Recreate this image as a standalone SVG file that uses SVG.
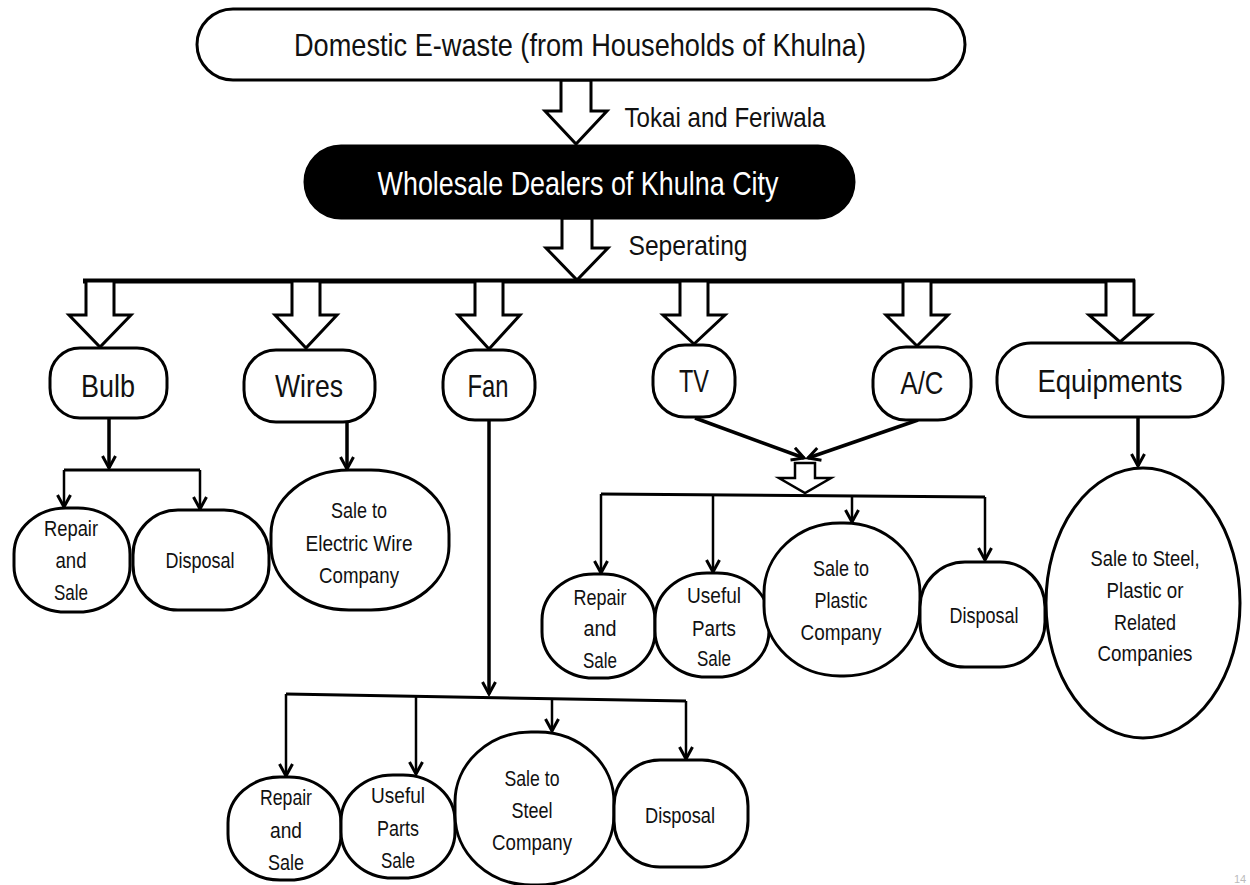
<svg xmlns="http://www.w3.org/2000/svg" width="1250" height="885" viewBox="0 0 1250 885">
<defs>
<marker id="ah" markerUnits="userSpaceOnUse" markerWidth="16" markerHeight="16" viewBox="0 0 16 16" refX="14" refY="8" orient="auto">
<path d="M2,1.5 L14,8 L2,14.5" fill="none" stroke="#000" stroke-width="3"/>
</marker>
</defs>
<style>
text{font-family:"Liberation Sans",Arial,sans-serif;fill:#111;text-anchor:middle}
.lg{font-size:32px}
.md{font-size:28px}
.sm{font-size:22px}
.box{fill:#fff;stroke:#000;stroke-width:3}
.blk{fill:#000;stroke:#000;stroke-width:3}
.barrow{fill:#fff;stroke:#000;stroke-width:3;stroke-linejoin:miter}
.c{fill:none;stroke:#000;stroke-width:3}
.ca{fill:none;stroke:#000;stroke-width:3.5;marker-end:url(#ah)}
.ct{fill:none;stroke:#000;stroke-width:2.5;marker-end:url(#ah)}
</style>
<rect width="1250" height="885" fill="#fff"/>

<g id="connectors">
<polygon class="barrow" points="561,80 591,80 591,111 607,111 576,144 545,111 561,111"/>
<polygon class="barrow" points="562,218 592,218 592,248 608,248 577,280 546,248 562,248"/>
<line x1="83" y1="281" x2="1135" y2="281" stroke="#000" stroke-width="5"/>
<polygon class="barrow" points="86,281 114,281 114,315 131,315 100,347 69,315 86,315"/>
<polygon class="barrow" points="292,281 320,281 320,315 337,315 306,348 275,315 292,315"/>
<polygon class="barrow" points="475,281 503,281 503,315 520,315 489,349 458,315 475,315"/>
<polygon class="barrow" points="680,281 708,281 708,315 725,315 694,344 663,315 680,315"/>
<polygon class="barrow" points="903,281 931,281 931,315 948,315 917,346 886,315 903,315"/>
<polygon class="barrow" points="1106,281 1134,281 1134,315 1151,315 1120,342 1089,315 1106,315"/>
<path class="ca" d="M109,419 V468"/>
<path class="c" d="M64,470 H200"/>
<path class="ct" d="M64,470 V507"/>
<path class="ct" d="M200,470 V509"/>
<path class="ca" d="M347,422 V469"/>
<path class="ca" d="M489,420 V694"/>
<path class="c" d="M286,694 L686,701"/>
<path class="ct" d="M286,694 V776"/>
<path class="ct" d="M416,696 V774"/>
<path class="ct" d="M552,698 V731"/>
<path class="ct" d="M686,701 V759"/>
<path class="ca" d="M695,418 L804,458"/>
<path class="ca" d="M918,420 L808,458"/>
<polygon class="barrow" style="stroke-width:2.5" points="795,463 815,463 815,478 831,478 805,493 779,478 795,478"/>
<path class="c" d="M601,494 L985,497"/>
<path class="ct" d="M601,494 V573"/>
<path class="ct" d="M713,495 V572"/>
<path class="ct" d="M852,496 V522"/>
<path class="ct" d="M985,497 V560"/>
<path class="ca" d="M1138,418 V466"/>
</g>

<g id="n-domestic">
<rect class="box" x="197" y="9" width="768" height="71" rx="36"/>
<text class="lg" x="580" y="56" textLength="572" lengthAdjust="spacingAndGlyphs">Domestic E-waste (from Households of Khulna)</text>
</g>
<g id="l-tokai"><text class="md" x="725" y="127" textLength="201" lengthAdjust="spacingAndGlyphs">Tokai and Feriwala</text></g>
<g id="n-wholesale">
<rect class="blk" x="305" y="146" width="549" height="72" rx="36"/>
<text class="lg" x="578" y="195" style="fill:#fff;font-size:33px" textLength="401" lengthAdjust="spacingAndGlyphs">Wholesale Dealers of Khulna City</text>
</g>
<g id="l-sep"><text class="md" x="688" y="255" textLength="119" lengthAdjust="spacingAndGlyphs">Seperating</text></g>

<g id="n-bulb"><rect class="box" x="50" y="348" width="117" height="70" rx="30"/><text class="lg" x="108" y="397" textLength="54" lengthAdjust="spacingAndGlyphs">Bulb</text></g>
<g id="n-wires"><rect class="box" x="244" y="350" width="131" height="72" rx="32"/><text class="lg" x="309" y="397" textLength="68" lengthAdjust="spacingAndGlyphs">Wires</text></g>
<g id="n-fan"><rect class="box" x="443" y="350" width="92" height="70" rx="32"/><text class="lg" x="488" y="397" textLength="41" lengthAdjust="spacingAndGlyphs">Fan</text></g>
<g id="n-tv"><rect class="box" x="653" y="345" width="82" height="72" rx="32"/><text class="lg" x="694" y="392" textLength="30" lengthAdjust="spacingAndGlyphs">TV</text></g>
<g id="n-ac"><rect class="box" x="873" y="347" width="98" height="73" rx="33"/><text class="lg" x="922" y="394" textLength="43" lengthAdjust="spacingAndGlyphs">A/C</text></g>
<g id="n-equip"><rect class="box" x="997" y="343" width="226" height="74" rx="34"/><text class="lg" x="1110" y="392" textLength="145" lengthAdjust="spacingAndGlyphs">Equipments</text></g>

<g id="n-bulb-repair"><rect class="box" x="14" y="508" width="116" height="104" rx="52" ry="46"/>
<text class="sm" x="71" y="536" textLength="54" lengthAdjust="spacingAndGlyphs">Repair</text>
<text class="sm" x="71" y="568" textLength="31" lengthAdjust="spacingAndGlyphs">and</text>
<text class="sm" x="71" y="600" textLength="34" lengthAdjust="spacingAndGlyphs">Sale</text></g>
<g id="n-bulb-disposal"><rect class="box" x="133" y="510" width="136" height="100" rx="45"/>
<text class="sm" x="200" y="568" textLength="69" lengthAdjust="spacingAndGlyphs">Disposal</text></g>
<g id="n-wire-sale"><rect class="box" x="271" y="470" width="178" height="140" rx="78" ry="64"/>
<text class="sm" x="359" y="518" textLength="56" lengthAdjust="spacingAndGlyphs">Sale to</text>
<text class="sm" x="359" y="551" textLength="107" lengthAdjust="spacingAndGlyphs">Electric Wire</text>
<text class="sm" x="359" y="583" textLength="80" lengthAdjust="spacingAndGlyphs">Company</text></g>

<g id="n-tv-repair"><rect class="box" x="542" y="574" width="113" height="104" rx="52" ry="46"/>
<text class="sm" x="600" y="605" textLength="53" lengthAdjust="spacingAndGlyphs">Repair</text>
<text class="sm" x="600" y="636" textLength="33" lengthAdjust="spacingAndGlyphs">and</text>
<text class="sm" x="600" y="668" textLength="34" lengthAdjust="spacingAndGlyphs">Sale</text></g>
<g id="n-tv-useful"><rect class="box" x="655" y="573" width="114" height="104" rx="52" ry="46"/>
<text class="sm" x="714" y="603" textLength="54" lengthAdjust="spacingAndGlyphs">Useful</text>
<text class="sm" x="714" y="636" textLength="44" lengthAdjust="spacingAndGlyphs">Parts</text>
<text class="sm" x="714" y="666" textLength="34" lengthAdjust="spacingAndGlyphs">Sale</text></g>
<g id="n-plastic"><rect class="box" x="764" y="523" width="156" height="153" rx="76" ry="70"/>
<text class="sm" x="841" y="576" textLength="56" lengthAdjust="spacingAndGlyphs">Sale to</text>
<text class="sm" x="841" y="608" textLength="53" lengthAdjust="spacingAndGlyphs">Plastic</text>
<text class="sm" x="841" y="640" textLength="81" lengthAdjust="spacingAndGlyphs">Company</text></g>
<g id="n-tv-disposal"><rect class="box" x="920" y="562" width="125" height="105" rx="45"/>
<text class="sm" x="984" y="623" textLength="69" lengthAdjust="spacingAndGlyphs">Disposal</text></g>
<g id="n-equip-sale"><ellipse class="box" cx="1143" cy="603" rx="97" ry="135"/>
<text class="sm" x="1145" y="566" textLength="109" lengthAdjust="spacingAndGlyphs">Sale to Steel,</text>
<text class="sm" x="1145" y="598" textLength="77" lengthAdjust="spacingAndGlyphs">Plastic or</text>
<text class="sm" x="1145" y="630" textLength="62" lengthAdjust="spacingAndGlyphs">Related</text>
<text class="sm" x="1145" y="661" textLength="95" lengthAdjust="spacingAndGlyphs">Companies</text></g>

<g id="n-fan-repair"><rect class="box" x="228" y="777" width="113" height="103" rx="52" ry="46"/>
<text class="sm" x="286" y="805" textLength="52" lengthAdjust="spacingAndGlyphs">Repair</text>
<text class="sm" x="286" y="838" textLength="32" lengthAdjust="spacingAndGlyphs">and</text>
<text class="sm" x="286" y="870" textLength="36" lengthAdjust="spacingAndGlyphs">Sale</text></g>
<g id="n-fan-useful"><rect class="box" x="341" y="775" width="114" height="103" rx="52" ry="46"/>
<text class="sm" x="398" y="803" textLength="54" lengthAdjust="spacingAndGlyphs">Useful</text>
<text class="sm" x="398" y="836" textLength="42" lengthAdjust="spacingAndGlyphs">Parts</text>
<text class="sm" x="398" y="868" textLength="34" lengthAdjust="spacingAndGlyphs">Sale</text></g>
<g id="n-steel"><rect class="box" x="455" y="732" width="159" height="153" rx="76" ry="70"/>
<text class="sm" x="532" y="786" textLength="55" lengthAdjust="spacingAndGlyphs">Sale to</text>
<text class="sm" x="532" y="818" textLength="41" lengthAdjust="spacingAndGlyphs">Steel</text>
<text class="sm" x="532" y="850" textLength="80" lengthAdjust="spacingAndGlyphs">Company</text></g>
<g id="n-fan-disposal"><rect class="box" x="614" y="760" width="134" height="107" rx="46"/>
<text class="sm" x="680" y="823" textLength="70" lengthAdjust="spacingAndGlyphs">Disposal</text></g>

<g id="page"><text x="1240" y="883" style="font-size:11px;fill:#bbb">14</text></g>
</svg>
